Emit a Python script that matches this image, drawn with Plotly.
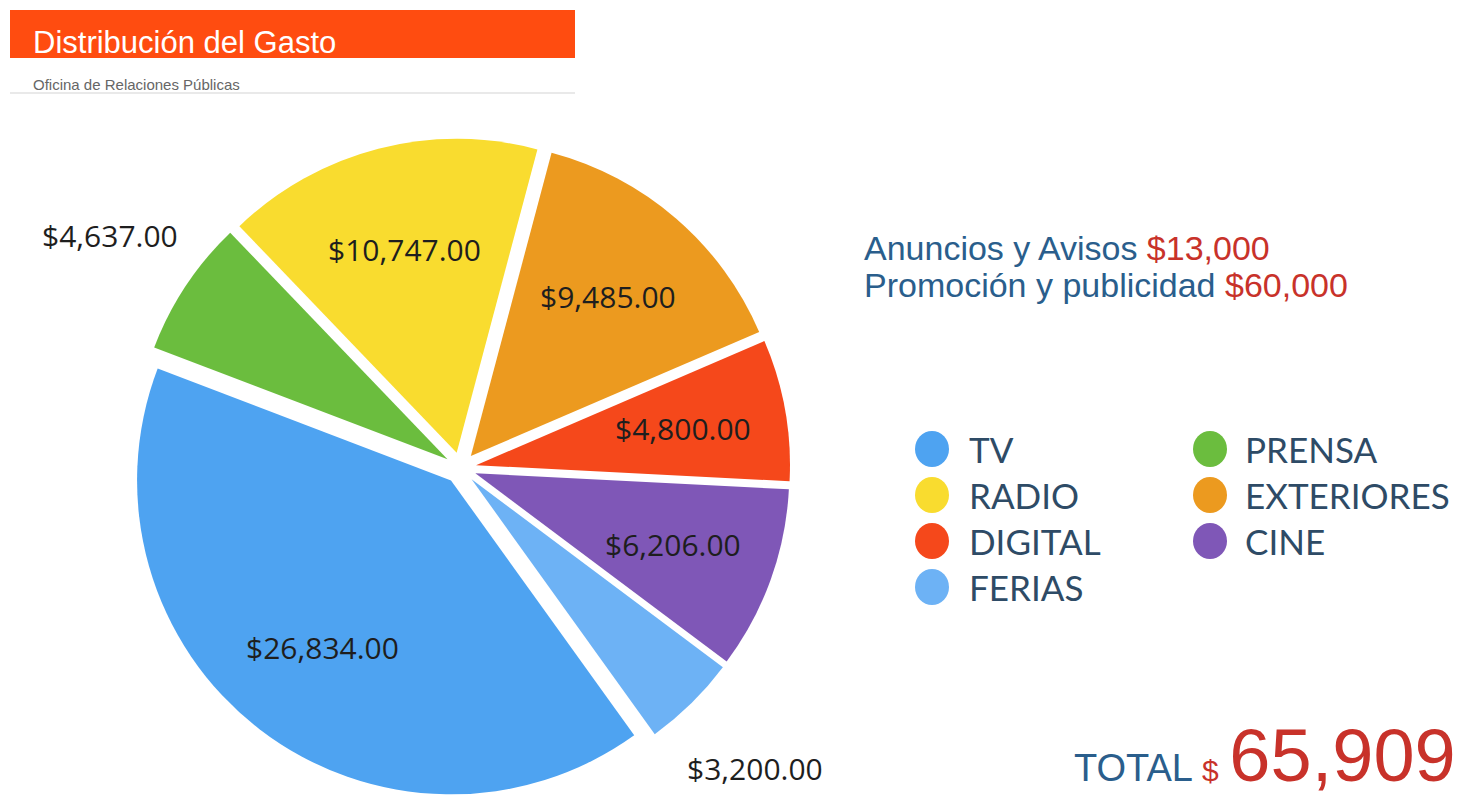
import math
import plotly.graph_objects as go

# slices in clockwise order starting at the RADIO / PRENSA boundary
categories = ["RADIO", "EXTERIORES", "DIGITAL", "CINE", "FERIAS", "TV", "PRENSA"]
values = [10747, 9485, 4800, 6206, 3200, 26834, 4637]
colors = ["#f9dc2f", "#ec9a1f", "#f5481b", "#7f57b7", "#6db2f5", "#4ea3f1", "#6bbd3e"]
outside = ["FERIAS", "PRENSA"]

legend_col1 = ["TV", "RADIO", "DIGITAL", "FERIAS"]
legend_col2 = ["PRENSA", "EXTERIORES", "CINE"]

extra_labels = ["Anuncios y Avisos", "Promoción y publicidad"]
extra_values = ["$13,000", "$60,000"]
total = sum(values)

W, H = 1468, 799
BLUE_TXT = "#2a5e8c"
RED_TXT = "#c8322a"
START = -43.8   # where the first slice starts, degrees clockwise from 12 o'clock
PULL = 0.05
dom_x = [0.0892, 0.5383]
dom_y = [0.0016, 0.827]

def px(x):
    return x / W

def py(y):
    return 1 - y / H

fig = go.Figure(go.Pie(
    labels=categories,
    values=values,
    sort=False,
    direction="clockwise",
    rotation=START,
    pull=PULL,
    marker=dict(colors=colors, line=dict(width=0)),
    textinfo="none",
    hoverinfo="skip",
    showlegend=False,
    domain=dict(x=dom_x, y=dom_y),
))

shapes = []
annotations = []

# value labels along each slice's bisector
cx = (dom_x[0] + dom_x[1]) / 2 * W
cy = (1 - (dom_y[0] + dom_y[1]) / 2) * H
r = min((dom_x[1] - dom_x[0]) * W, (dom_y[1] - dom_y[0]) * H) / 2 / (1 + PULL)
acc = 0
for cat, v in zip(categories, values):
    mid = math.radians(START + (acc + v / 2) / total * 360)
    acc += v
    k = 1.34 if cat in outside else 0.72
    lx = cx + k * r * math.sin(mid)
    ly = cy - k * r * math.cos(mid)
    annotations.append(dict(text=f"${v:,.2f}", x=px(lx), y=py(ly), xref="paper", yref="paper",
                            xanchor="center", yanchor="middle", showarrow=False,
                            font=dict(family="Open Sans", size=30, color="#1e1e1e")))

# header
shapes.append(dict(type="rect", xref="paper", yref="paper", x0=px(10), x1=px(575), y0=py(58), y1=py(10),
                   fillcolor="#ff4c10", line=dict(width=0), layer="below"))
shapes.append(dict(type="line", xref="paper", yref="paper", x0=px(10), x1=px(575), y0=py(93), y1=py(93),
                   line=dict(color="#e2e2e2", width=1.5)))
annotations.append(dict(text="Distribución del Gasto", x=px(31), y=py(42), xref="paper", yref="paper",
                        xanchor="left", yanchor="middle", showarrow=False,
                        font=dict(family="Liberation Sans", size=31, color="#ffffff")))
annotations.append(dict(text="Oficina de Relaciones Públicas", x=px(31), y=py(84), xref="paper", yref="paper",
                        xanchor="left", yanchor="middle", showarrow=False,
                        font=dict(family="Liberation Sans", size=15, color="#666666")))

# budget lines
for i, (lab, val) in enumerate(zip(extra_labels, extra_values)):
    annotations.append(dict(text=f"{lab} <span style='color:{RED_TXT}'>{val}</span>",
                            x=px(862), y=py(248 + 37 * i), xref="paper", yref="paper",
                            xanchor="left", yanchor="middle", showarrow=False,
                            font=dict(family="Liberation Sans", size=34, color=BLUE_TXT)))

# custom two-column legend
col_of = {c: colors[categories.index(c)] for c in categories}
for names, lx, tx in [(legend_col1, 932, 967), (legend_col2, 1210, 1243)]:
    for j, name in enumerate(names):
        ly = 449 + 46 * j
        shapes.append(dict(type="circle", xref="paper", yref="paper",
                           x0=px(lx - 17), x1=px(lx + 17), y0=py(ly + 18), y1=py(ly - 18),
                           fillcolor=col_of[name], line=dict(width=0)))
        annotations.append(dict(text=name, x=px(tx), y=py(ly), xref="paper", yref="paper",
                                xanchor="left", yanchor="middle", showarrow=False,
                                font=dict(family="Lato", size=35, color="#2e4b66")))

# total
annotations.append(dict(text=f"TOTAL <span style='color:{RED_TXT};font-size:30px'>$</span> "
                             f"<span style='color:{RED_TXT};font-size:74px'>{total:,}</span>",
                        x=px(1458), y=py(799), xref="paper", yref="paper",
                        xanchor="right", yanchor="bottom", showarrow=False,
                        font=dict(family="Liberation Sans", size=38, color=BLUE_TXT)))

fig.update_layout(
    width=W, height=H,
    margin=dict(l=0, r=0, t=0, b=0),
    paper_bgcolor="white",
    plot_bgcolor="white",
    shapes=shapes,
    annotations=annotations,
)

fig.write_html("out.html", config={"displayModeBar": False},
               post_script="document.body.style.margin='0';document.body.style.overflow='hidden';")
